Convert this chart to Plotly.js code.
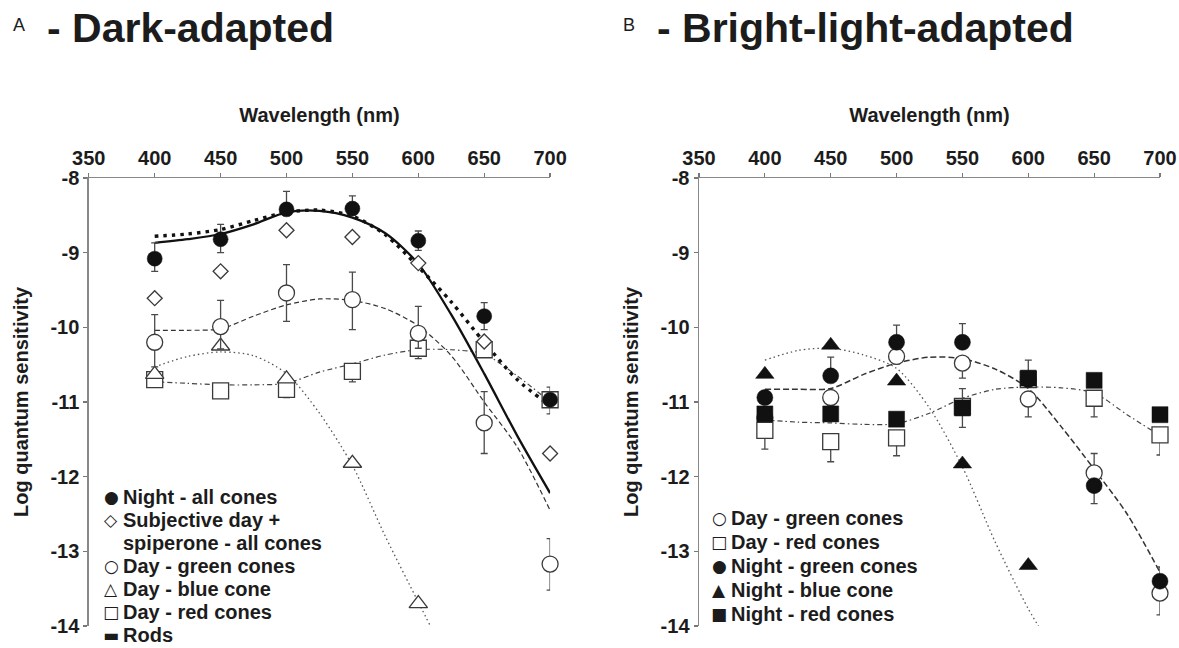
<!DOCTYPE html>
<html>
<head>
<meta charset="utf-8">
<script src="https://cdn.plot.ly/plotly-3.0.1.min.js"></script>
<style>html,body{margin:0;padding:0;background:#fff;}#chart{width:1179px;height:648px;}</style>
</head>
<body>
<div id="chart"></div>
<script>
// ---------------- data ----------------
const wavelengths = [400, 450, 500, 550, 600, 650, 700];
const blueWavelengths = [400, 450, 500, 550, 600];
const xTickVals = [350, 400, 450, 500, 550, 600, 650, 700];
const xTickText = ["350", "400", "450", "500", "550", "600", "650", "700"];
const yTickVals = [-14, -13, -12, -11, -10, -9, -8];
const yTickText = ["-14", "-13", "-12", "-11", "-10", "-9", "-8"];

// Panel A - dark-adapted
const aNightAll = [-9.08, -8.82, -8.42, -8.41, -8.84, -9.85, -10.97];
const aNightAllUp = [0.21, 0.2, 0.24, 0.17, 0.13, 0.18, 0.17];
const aNightAllDown = [0.17, 0.18, 0.0, 0.0, 0.13, 0.18, 0.19];
const aSpiperone = [-9.61, -9.25, -8.7, -8.79, -9.14, -10.19, -11.69];
const aDayGreen = [-10.2, -9.99, -9.54, -9.63, -10.08, -11.28, -13.17];
const aDayGreenUp = [0.37, 0.35, 0.38, 0.37, 0.36, 0.42, 0.34];
const aDayGreenDown = [0.33, 0.3, 0.38, 0.4, 0.2, 0.41, 0.35];
const aDayBlue = [-10.63, -10.25, -10.69, -11.82, -13.7];
const aDayRed = [-10.7, -10.85, -10.83, -10.59, -10.28, -10.3, -10.97];
const aDayRedUp = [0.05, 0.05, 0.05, 0.05, 0.05, 0.05, 0.05];
const aDayRedDown = [0.08, 0.08, 0.11, 0.14, 0.14, 0.08, 0.1];

// fitted curves
const fitWavelengths = [400, 425, 450, 475, 500, 525, 550, 575, 600, 625, 650, 675, 700];
const aRods = [-8.87, -8.82, -8.75, -8.62, -8.46, -8.44, -8.53, -8.74, -9.15, -9.83, -10.62, -11.45, -12.22];
const aNightFit = [-8.78, -8.75, -8.69, -8.57, -8.46, -8.43, -8.51, -8.76, -9.19, -9.66, -10.2, -10.7, -11.05];
const aGreenFit = [-10.04, -10.04, -10.02, -9.85, -9.7, -9.62, -9.64, -9.75, -9.98, -10.38, -11.0, -11.6, -12.45];
const aRedFit = [-10.73, -10.75, -10.77, -10.77, -10.75, -10.6, -10.49, -10.37, -10.3, -10.3, -10.36, -10.65, -11.0];
const aBlueFitWavelengths = [400, 425, 450, 475, 500, 525, 550, 575, 600, 612];
const aBlueFit = [-10.53, -10.39, -10.33, -10.38, -10.62, -11.15, -11.85, -12.8, -13.68, -14.1];

// Panel B - bright-light-adapted
const bDayGreen = [-11.21, -10.94, -10.39, -10.48, -10.96, -11.95, -13.56];
const bDayGreenUp = [0.05, 0.05, 0.05, 0.05, 0.05, 0.26, 0.05];
const bDayGreenDown = [0.1, 0.1, 0.1, 0.2, 0.24, 0.1, 0.29];
const bDayRed = [-11.38, -11.53, -11.48, -11.06, -10.7, -10.95, -11.44];
const bDayRedUp = [0.05, 0.05, 0.05, 0.05, 0.05, 0.05, 0.05];
const bDayRedDown = [0.25, 0.27, 0.24, 0.05, 0.05, 0.25, 0.27];
const bNightGreen = [-10.94, -10.65, -10.2, -10.2, -10.7, -12.12, -13.4];
const bNightGreenUp = [0.05, 0.25, 0.23, 0.25, 0.0, 0.05, 0.19];
const bNightGreenDown = [0.05, 0.05, 0.05, 0.05, 0.0, 0.24, 0.05];
const bNightBlue = [-10.63, -10.24, -10.72, -11.83, -13.19];
const bNightRed = [-11.16, -11.16, -11.23, -11.08, -10.68, -10.71, -11.17];
const bNightRedUp = [0.05, 0.05, 0.05, 0.26, 0.24, 0.05, 0.05];
const bNightRedDown = [0.05, 0.05, 0.05, 0.26, 0.05, 0.05, 0.05];

const bGreenFit = [-10.83, -10.83, -10.82, -10.63, -10.48, -10.4, -10.42, -10.56, -10.82, -11.33, -11.9, -12.5, -13.28];
const bRedFit = [-11.24, -11.27, -11.28, -11.3, -11.29, -11.15, -10.95, -10.83, -10.8, -10.81, -10.88, -11.17, -11.45];
const bBlueFitWavelengths = [400, 425, 450, 475, 500, 525, 550, 575, 600, 613];
const bBlueFit = [-10.44, -10.31, -10.28, -10.37, -10.55, -11.08, -11.87, -12.88, -13.77, -14.15];

// texts
const panelLetters = ["A", "B"];
const panelTitles = ["- Dark-adapted", "- Bright-light-adapted"];
const xTitle = "Wavelength (nm)";
const yTitle = "Log quantum sensitivity";
const legendALabels = ["Night - all cones", "Subjective day +", "spiperone - all cones", "Day - green cones", "Day - blue cone", "Day - red cones", "Rods"];
const legendASymbols = ["●", "◇", "", "○", "△", "□", "▬"];
const legendBLabels = ["Day - green cones", "Day - red cones", "Night - green cones", "Night - blue cone", "Night - red cones"];
const legendBSymbols = ["○", "□", "●", "▲", "■"];

// ---------------- drawing ----------------
const W = 1179, H = 648;
const FONT = "Liberation Sans, Arial, Helvetica, sans-serif";
const INK = "#1c1c1c";
const px = v => v / W;
const py = v => 1 - v / H;

function err(up, down) {
  return {type: "data", symmetric: false, array: up, arrayminus: down,
          color: "#4a4a4a", thickness: 1.3, width: 3.5};
}
function fit(x, y, xa, ya, dash, width, color) {
  return {x: x, y: y, xaxis: xa, yaxis: ya, type: "scatter", mode: "lines",
          line: {dash: dash, width: width, color: color, shape: "spline", smoothing: 0.8},
          hoverinfo: "skip", showlegend: false};
}
function pts(x, y, xa, ya, symbol, size, filled, e) {
  const t = {x: x, y: y, xaxis: xa, yaxis: ya, type: "scatter", mode: "markers",
    cliponaxis: false, showlegend: false,
    marker: {symbol: symbol, size: size,
      color: filled ? "#111" : "#fff",
      line: {color: filled ? "#111" : "#3a3a3a", width: filled ? 0.5 : 1.3}}};
  if (e) t.error_y = e;
  return t;
}

const traces = [
  // Panel A fits
  fit(aBlueFitWavelengths, aBlueFit, "x", "y", "1.5px,3px", 1.3, "#555"),
  fit(fitWavelengths, aRedFit, "x", "y", "5px,3px,1.5px,3px", 1.2, "#444"),
  fit(fitWavelengths, aGreenFit, "x", "y", "5px,3px", 1.2, "#333"),
  fit(fitWavelengths, aNightFit, "x", "y", "3.5px,5px", 3.4, "#111"),
  fit(fitWavelengths, aRods, "x", "y", "solid", 2.3, "#111"),
  // Panel A points
  pts(wavelengths, aDayRed, "x", "y", "square", 16, false, err(aDayRedUp, aDayRedDown)),
  pts(blueWavelengths, aDayBlue, "x", "y", "triangle-up", 16, false, null),
  pts(wavelengths, aDayGreen, "x", "y", "circle", 16, false, err(aDayGreenUp, aDayGreenDown)),
  pts(wavelengths, aSpiperone, "x", "y", "diamond", 11.5, false, null),
  pts(wavelengths, aNightAll, "x", "y", "circle", 15, true, err(aNightAllUp, aNightAllDown)),
  // Panel B fits
  fit(bBlueFitWavelengths, bBlueFit, "x2", "y2", "1.5px,3px", 1.3, "#555"),
  fit(fitWavelengths, bRedFit, "x2", "y2", "5px,3px,1.5px,3px", 1.2, "#444"),
  fit(fitWavelengths, bGreenFit, "x2", "y2", "6px,3px", 1.5, "#333"),
  // Panel B points
  pts(wavelengths, bDayGreen, "x2", "y2", "circle", 16, false, err(bDayGreenUp, bDayGreenDown)),
  pts(wavelengths, bDayRed, "x2", "y2", "square", 16, false, err(bDayRedUp, bDayRedDown)),
  pts(wavelengths, bNightGreen, "x2", "y2", "circle", 16, true, err(bNightGreenUp, bNightGreenDown)),
  pts(blueWavelengths, bNightBlue, "x2", "y2", "triangle-up", 16, true, null),
  pts(wavelengths, bNightRed, "x2", "y2", "square", 16, true, err(bNightRedUp, bNightRedDown))
];

function xAxis(domain, anchor) {
  return {domain: domain, anchor: anchor, range: [350, 700], side: "top",
    tickvals: xTickVals, ticktext: xTickText, ticks: "outside", ticklen: 4, tickwidth: 1.2,
    tickcolor: "#777", showline: true, linecolor: "#888", linewidth: 1.5,
    showgrid: false, zeroline: false, fixedrange: true,
    tickfont: {family: FONT, size: 20, color: INK, weight: "bold"},
    title: {text: xTitle, standoff: 18, font: {family: FONT, size: 20, color: INK, weight: "bold"}}};
}
function yAxis(domain, anchor) {
  return {domain: domain, anchor: anchor, range: [-14, -8],
    tickvals: yTickVals, ticktext: yTickText, ticks: "outside", ticklen: 4, tickwidth: 1.2,
    tickcolor: "#777", showline: true, linecolor: "#888", linewidth: 1.5,
    showgrid: false, zeroline: false, fixedrange: true,
    tickfont: {family: FONT, size: 20, color: INK, weight: "bold"},
    title: {text: yTitle, standoff: 16, font: {family: FONT, size: 20, color: INK, weight: "bold"}}};
}

const yDom = [py(626), py(178)];
const annotations = [];
// panel titles
const letterX = [19, 629];
const titleX = [45, 655];
panelTitles.forEach((t, i) => {
  annotations.push({xref: "paper", yref: "paper", x: px(letterX[i]), y: py(25), xanchor: "center", yanchor: "middle",
    text: panelLetters[i], showarrow: false, font: {family: FONT, size: 18, color: INK}});
  annotations.push({xref: "paper", yref: "paper", x: px(titleX[i]), y: py(28), xanchor: "left", yanchor: "middle",
    text: t, showarrow: false, font: {family: FONT, size: 41, color: INK, weight: "bold"}});
});
// legends drawn as text rows
function legendRows(labels, symbols, symX, textX, top, step) {
  labels.forEach((lab, i) => {
    const y = py(top + i * step);
    if (symbols[i]) {
      annotations.push({xref: "paper", yref: "paper", x: px(symX), y: y, xanchor: "center", yanchor: "middle",
        text: symbols[i], showarrow: false, borderpad: 0, font: {family: "DejaVu Sans", size: 17, color: INK}});
    }
    annotations.push({xref: "paper", yref: "paper", x: px(textX), y: y, xanchor: "left", yanchor: "middle",
      text: lab, showarrow: false, borderpad: 0, font: {family: FONT, size: 20, color: INK, weight: "bold"}});
  });
}
legendRows(legendALabels, legendASymbols, 111, 122, 497, 23);
legendRows(legendBLabels, legendBSymbols, 719, 730, 518, 24);

const layout = {
  width: W, height: H, margin: {l: 0, r: 0, t: 0, b: 0},
  paper_bgcolor: "#fff", plot_bgcolor: "#fff", showlegend: false,
  font: {family: FONT, color: INK},
  xaxis: xAxis([px(88.8), px(550.1)], "y"),
  yaxis: yAxis(yDom, "x"),
  xaxis2: xAxis([px(699), px(1160)], "y2"),
  yaxis2: yAxis(yDom, "x2"),
  annotations: annotations
};

Plotly.newPlot("chart", traces, layout, {displayModeBar: false, staticPlot: true});
</script>
</body>
</html>
